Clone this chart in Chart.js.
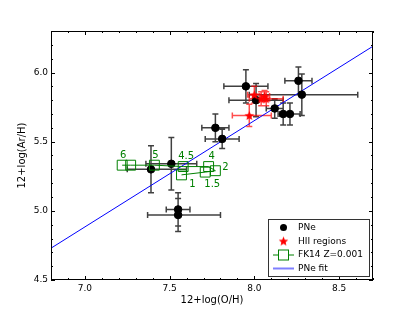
<!DOCTYPE html>
<html>
<head>
<meta charset="utf-8">
<script src="https://cdn.jsdelivr.net/npm/chart.js@4.4.0/dist/chart.umd.min.js"></script>
<style>
  body { margin: 0; background: #fff; }
  canvas { display: block; }
</style>
</head>
<body>
<canvas id="grafico" width="415" height="312"></canvas>
<script>
// PNe: 12+log(O/H), 12+log(Ar/H) and error bars (lo / hi)
const pneO     = [7.95, 8.01, 8.12, 8.17, 8.21, 8.26, 8.28, 7.77, 7.81, 7.39, 7.51, 7.55, 7.55];
const pneAr    = [5.90, 5.80, 5.74, 5.70, 5.70, 5.94, 5.84, 5.60, 5.52, 5.30, 5.34, 5.01, 4.97];
const pneOLo   = [0.13, 0.16, 0.05, 0.03, 0.06, 0.08, 0.31, 0.08, 0.10, 0.14, 0.15, 0.07, 0.18];
const pneOHi   = [0.13, 0.16, 0.05, 0.03, 0.06, 0.08, 0.33, 0.08, 0.10, 0.21, 0.15, 0.07, 0.25];
const pneArErr = [0.12, 0.12, 0.07, 0.08, 0.08, 0.10, 0.15, 0.10, 0.07, 0.17, 0.19, 0.12, 0.12];

// HII regions
const hiiO     = [8.00, 8.04, 8.06, 8.07, 7.97];
const hiiAr    = [5.84, 5.81, 5.83, 5.81, 5.69];
const hiiOLo   = [0.04, 0.05, 0.03, 0.10, 0.10];
const hiiOHi   = [0.04, 0.05, 0.03, 0.10, 0.13];
const hiiArErr = [0.06, 0.05, 0.04, 0.05, 0.08];

// FK14 Z=0.001 models
const fkO      = [7.57, 7.71, 7.77, 7.73, 7.58, 7.41, 7.27, 7.22];
const fkAr     = [5.26, 5.28, 5.29, 5.32, 5.32, 5.33, 5.33, 5.33];
const fkLabels = ['1', '1.5', '2', '4', '4.5', '5', '', '6'];

// PNe fit
const fitO  = [6.8, 8.7];
const fitAr = [4.73, 6.19];

const xTicks = [7.0, 7.5, 8.0, 8.5];
const yTicks = [4.5, 5.0, 5.5, 6.0];

const FONT = 'DejaVu Sans';

const puntos = (xs, ys) => xs.map((x, i) => ({x: x, y: ys[i]}));

// filled star marker
const estrella = document.createElement('canvas');
estrella.width = 11; estrella.height = 11;
(() => {
    const c = estrella.getContext('2d');
    c.beginPath();
    for (let i = 0; i < 10; i++) {
        const r = i % 2 === 0 ? 5 : 2.2;
        const a = -Math.PI / 2 + i * Math.PI / 5;
        const px = 5.5 + r * Math.cos(a), py = 6 + r * Math.sin(a);
        if (i === 0) c.moveTo(px, py); else c.lineTo(px, py);
    }
    c.closePath();
    c.fillStyle = '#ff0000';
    c.fill();
})();

const fkLabelOffset = {
    '1': [11, 10], '1.5': [7, 12], '2': [10, -3], '4': [3, -10],
    '4.5': [3, -10], '5': [1, -10], '6': [1, -10]
};

const barrasError = {
    id: 'barrasError',
    beforeDatasetsDraw(chart) {
        const {ctx, scales: {x, y}} = chart;
        const dibujar = (xs, ys, xlo, xhi, yerr, color) => {
            ctx.save();
            ctx.strokeStyle = color;
            ctx.lineWidth = 1.5;
            ctx.beginPath();
            xs.forEach((v, i) => {
                const px = x.getPixelForValue(v), py = y.getPixelForValue(ys[i]);
                const x1 = x.getPixelForValue(v - xlo[i]), x2 = x.getPixelForValue(v + xhi[i]);
                const y1 = y.getPixelForValue(ys[i] - yerr[i]), y2 = y.getPixelForValue(ys[i] + yerr[i]);
                ctx.moveTo(x1, py); ctx.lineTo(x2, py);
                ctx.moveTo(px, y1); ctx.lineTo(px, y2);
                ctx.moveTo(x1, py - 3); ctx.lineTo(x1, py + 3);
                ctx.moveTo(x2, py - 3); ctx.lineTo(x2, py + 3);
                ctx.moveTo(px - 3, y1); ctx.lineTo(px + 3, y1);
                ctx.moveTo(px - 3, y2); ctx.lineTo(px + 3, y2);
            });
            ctx.stroke();
            ctx.restore();
        };
        dibujar(pneO, pneAr, pneOLo, pneOHi, pneArErr, 'rgba(0,0,0,0.75)');
        dibujar(hiiO, hiiAr, hiiOLo, hiiOHi, hiiArErr, 'rgba(255,0,0,0.7)');
    }
};

const marco = {
    id: 'marco',
    afterDraw(chart) {
        const {ctx, chartArea: a, scales: {x, y}} = chart;
        ctx.save();
        // FK14 labels
        ctx.fillStyle = '#008000';
        ctx.font = '10px ' + FONT;
        ctx.textAlign = 'center';
        ctx.textBaseline = 'middle';
        fkO.forEach((v, i) => {
            const lab = fkLabels[i];
            if (!lab) return;
            const off = fkLabelOffset[lab];
            ctx.fillText(lab, x.getPixelForValue(v) + off[0], y.getPixelForValue(fkAr[i]) + off[1]);
        });
        // frame and inward ticks
        ctx.strokeStyle = '#000';
        ctx.lineWidth = 1;
        ctx.strokeRect(a.left + 0.5, a.top + 0.5, a.right - a.left - 1, a.bottom - a.top - 1);
        ctx.beginPath();
        for (let k = 68; k <= 87; k++) {
            const v = k / 10;
            const len = (k % 5 === 0) ? 4 : 2;
            const px = Math.round(x.getPixelForValue(v)) + 0.5;
            ctx.moveTo(px, a.bottom); ctx.lineTo(px, a.bottom - len);
            ctx.moveTo(px, a.top); ctx.lineTo(px, a.top + len);
        }
        for (let k = 45; k <= 63; k++) {
            const v = k / 10;
            const len = (k % 5 === 0) ? 4 : 2;
            const py = Math.round(y.getPixelForValue(v)) + 0.5;
            ctx.moveTo(a.left, py); ctx.lineTo(a.left + len, py);
            ctx.moveTo(a.right, py); ctx.lineTo(a.right - len, py);
        }
        ctx.stroke();
        // legend
        const lx = 268.5, ly = 219.5, lw = 101, lh = 57;
        ctx.fillStyle = '#fff';
        ctx.fillRect(lx, ly, lw, lh);
        ctx.strokeStyle = '#333';
        ctx.strokeRect(lx, ly, lw, lh);
        const filas = [227.5, 241.5, 255, 268.5];
        const mx = 283.5, tx = 298;
        ctx.fillStyle = '#000';
        ctx.beginPath(); ctx.arc(mx, filas[0], 3.5, 0, Math.PI * 2); ctx.fill();
        ctx.drawImage(estrella, mx - 5.5, filas[1] - 6);
        ctx.strokeStyle = '#008000';
        ctx.beginPath(); ctx.moveTo(273, filas[2]); ctx.lineTo(294, filas[2]); ctx.stroke();
        ctx.fillStyle = '#fff';
        ctx.fillRect(mx - 5, filas[2] - 5, 10, 10);
        ctx.strokeRect(mx - 5, filas[2] - 5, 10, 10);
        ctx.strokeStyle = 'rgba(0,0,255,0.5)';
        ctx.lineWidth = 2;
        ctx.beginPath(); ctx.moveTo(273, filas[3]); ctx.lineTo(294, filas[3]); ctx.stroke();
        ctx.fillStyle = '#000';
        ctx.font = '9px ' + FONT;
        ctx.textAlign = 'left';
        ctx.textBaseline = 'middle';
        ['PNe', 'HII regions', 'FK14 Z=0.001', 'PNe fit'].forEach((t, i) => ctx.fillText(t, tx, filas[i]));
        ctx.restore();
    }
};

const config = {
    type: 'scatter',
    data: {
        datasets: [
            {
                label: 'PNe',
                data: puntos(pneO, pneAr),
                backgroundColor: '#000',
                borderColor: '#000',
                pointRadius: 3.8,
                order: 2
            },
            {
                label: 'HII regions',
                data: puntos(hiiO, hiiAr),
                pointStyle: estrella,
                order: 1
            },
            {
                label: 'FK14 Z=0.001',
                data: puntos(fkO, fkAr),
                showLine: true,
                borderColor: '#008000',
                backgroundColor: 'rgba(0,0,0,0)',
                borderWidth: 1,
                pointStyle: 'rect',
                pointRadius: 7,
                pointBorderWidth: 1,
                order: 0
            },
            {
                label: 'PNe fit',
                data: puntos(fitO, fitAr),
                showLine: true,
                borderColor: '#0000ff',
                borderWidth: 1,
                pointRadius: 0,
                order: 3
            }
        ]
    },
    options: {
        responsive: false,
        animation: false,
        devicePixelRatio: 1,
        layout: { padding: { left: 0, top: 31, right: 42, bottom: 0 } },
        plugins: { legend: { display: false }, tooltip: { enabled: false } },
        scales: {
            x: {
                type: 'linear',
                min: 6.8,
                max: 8.7,
                grid: { display: false, drawTicks: false },
                border: { display: false },
                afterBuildTicks: (s) => { s.ticks = xTicks.map(v => ({value: v})); },
                afterFit: (s) => { s.height = 32; },
                ticks: {
                    padding: 3,
                    color: '#000',
                    font: { family: FONT, size: 9 },
                    maxRotation: 0,
                    callback: (v) => Number(v).toFixed(1)
                },
                title: {
                    display: true,
                    text: '12+log(O/H)',
                    color: '#000',
                    font: { family: FONT, size: 10 },
                    padding: { top: 0, bottom: 6 }
                }
            },
            y: {
                type: 'linear',
                min: 4.5,
                max: 6.3,
                grid: { display: false, drawTicks: false },
                border: { display: false },
                afterBuildTicks: (s) => { s.ticks = yTicks.map(v => ({value: v})); },
                afterFit: (s) => { s.width = 51; },
                ticks: {
                    padding: 3,
                    color: '#000',
                    font: { family: FONT, size: 9 },
                    callback: (v) => Number(v).toFixed(1)
                },
                title: {
                    display: true,
                    text: '12+log(Ar/H)',
                    color: '#000',
                    font: { family: FONT, size: 10 },
                    padding: { top: 16, bottom: 0 }
                }
            }
        }
    },
    plugins: [barrasError, marco]
};

const grafico = new Chart(document.getElementById('grafico').getContext('2d'), config);
</script>
</body>
</html>
